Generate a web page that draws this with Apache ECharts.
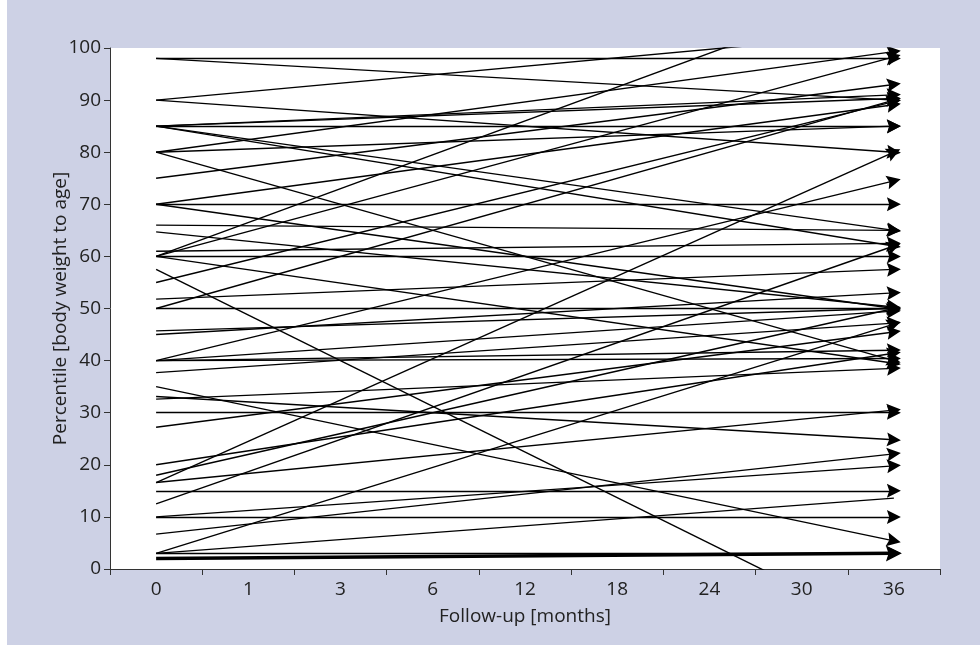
<!DOCTYPE html>
<html>
<head>
<meta charset="utf-8">
<script src="https://cdn.jsdelivr.net/npm/echarts@6/dist/echarts.min.js"></script>
<style>
  html, body { margin: 0; padding: 0; background: #fff; }
  #chart { position: absolute; left: 7px; top: 0; width: 973px; height: 645px; background: #cdd1e5; }
</style>
</head>
<body>
<div id="chart"></div>
<script>
// follow-up time points (category axis)
const months = ["0", "1", "3", "6", "12", "18", "24", "30", "36"];
const yTicks = [0, 10, 20, 30, 40, 50, 60, 70, 80, 90, 100];

// percentile at baseline and at 36 months, one entry per patient
const startPct = [98, 98, 90, 90, 85, 85, 85, 85, 85, 80, 80, 80, 75, 70, 70, 70, 66, 64.7, 61,
  60, 60, 60, 60, 57.5, 55, 51.8, 50, 50, 45.7, 45, 40, 40, 40, 40, 37.7, 35, 33.1, 32.6, 30,
  27.2, 20, 18, 16.6, 16.6, 15, 12.5, 10, 10, 6.7, 3, 3];
const endPct = [98, 90, 103, 80, 85, 90.3, 91, 65, 62, 99.3, 85, 40, 93, 89.1, 70, 50, 65, 50.3, 62.5,
  98.3, 112, 60, 39.5, -12.6, 89.7, 57.5, 50, 90, 50, 53, 74.5, 49.5, 42, 40.4, 47.2, 5.4, 24.8, 38.5, 30,
  45.5, 41.4, 50, 80, 30.5, 15, 62, 10, 19.8, 22.1, 47, 3];

// lines drawn without arrowhead
const plainStart = [3];
const plainEnd = [13.6];

// overlapping patients at the bottom (drawn heavy)
const heavyStart = [2];
const heavyEnd = [3];

const lastIdx = months.length - 1;
const toCoords = (s, e) => s.map((v, i) => ({ coords: [[0, v], [lastIdx, e[i]]] }));

const chart = echarts.init(document.getElementById("chart"));
const font = "'Open Sans', 'Noto Sans', sans-serif";
// solid arrowhead, tip pointing up (rotated along the line by echarts)
const arrowHead = "path://M5,0 L10,15 L5,12.5 L0,15 Z";

const option = {
  animation: false,
  grid: {
    left: 103,
    right: 40,
    top: 48,
    bottom: 76,
    show: true,
    backgroundColor: "#fff",
    borderWidth: 0,
  },
  xAxis: {
    type: "category",
    data: months,
    boundaryGap: true,
    name: "Follow-up [months]",
    nameLocation: "middle",
    nameGap: 38,
    nameMoveOverlap: false,
    nameTextStyle: { fontFamily: font, fontSize: 19, color: "#222" },
    axisLine: { lineStyle: { color: "#333", width: 1 } },
    axisTick: { show: true, interval: 0, length: 6, lineStyle: { color: "#333" } },
    axisLabel: { interval: 0, margin: 11, fontFamily: font, fontSize: 19, color: "#222" },
    splitLine: { show: false },
  },
  yAxis: {
    type: "value",
    min: yTicks[0],
    max: yTicks[yTicks.length - 1],
    interval: 10,
    name: "Percentile [body weight to age]",
    nameLocation: "middle",
    nameGap: 40,
    nameMoveOverlap: false,
    nameTextStyle: { fontFamily: font, fontSize: 19, color: "#222" },
    axisLine: { show: true, lineStyle: { color: "#333", width: 1 } },
    axisTick: { show: true, length: 6, lineStyle: { color: "#333" } },
    axisLabel: { margin: 9, fontFamily: font, fontSize: 19, color: "#222" },
    splitLine: { show: false },
  },
  series: [
    {
      type: "lines",
      coordinateSystem: "cartesian2d",
      clip: true,
      silent: true,
      symbol: ["none", arrowHead],
      symbolSize: [11, 14],
      symbolOffset: [0, 6],
      lineStyle: { color: "#000", width: 1.4, opacity: 1 },
      data: toCoords(startPct, endPct),
    },
    {
      type: "lines",
      coordinateSystem: "cartesian2d",
      clip: true,
      silent: true,
      symbol: ["none", "none"],
      lineStyle: { color: "#000", width: 1.4, opacity: 1 },
      data: toCoords(plainStart, plainEnd),
    },
    {
      type: "lines",
      coordinateSystem: "cartesian2d",
      clip: true,
      silent: true,
      symbol: ["none", arrowHead],
      symbolSize: [13, 16],
      symbolOffset: [0, 6],
      lineStyle: { color: "#000", width: 3.5, opacity: 1 },
      data: toCoords(heavyStart, heavyEnd),
    },
  ],
};

chart.setOption(option);
</script>
</body>
</html>
